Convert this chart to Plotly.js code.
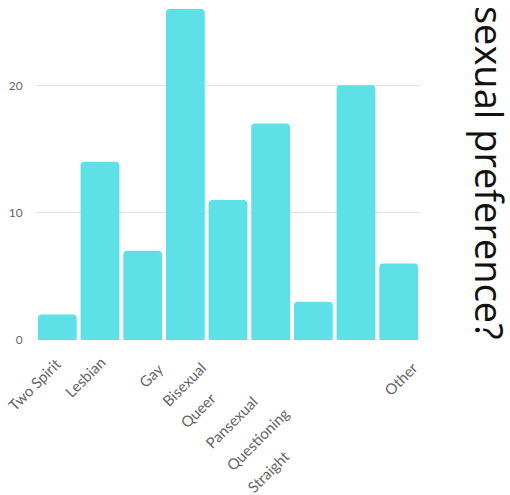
<!DOCTYPE html>
<html>
<head>
<meta charset="utf-8">
<script src="https://cdn.plot.ly/plotly-3.0.1.min.js"></script>
<style>html,body{margin:0;padding:0;background:#fff;}#chart{width:510px;height:495px;}</style>
</head>
<body>
<div id="chart"></div>
<script>
const categories = ["Two Spirit", "Lesbian", "Gay", "Bisexual", "Queer", "Pansexual", "Questioning", "Straight", "Other"];
const counts = [2, 14, 7, 26, 11, 17, 3, 20, 6];
const yTickValues = [0, 10, 20];
const titleText = "sexual preference?";

// label placement offsets (px) reproducing the staggered label layout
const labelShift = [
  [10, -11], [11, -10], [27, -17], [27, -16], [-6, -46], [-7, -49], [-18, -61], [-60, -103], [26, -15]
];

const annotations = categories.map((c, i) => ({
  xref: 'x', yref: 'paper', x: c, y: 0,
  xanchor: 'right', yanchor: 'top',
  xshift: labelShift[i][0], yshift: labelShift[i][1],
  text: c, textangle: -45, showarrow: false,
  font: {family: 'Lato, sans-serif', size: 15, color: '#666'}
}));
annotations.push({
  xref: 'paper', yref: 'paper', x: 1, y: 0,
  xanchor: 'center', yanchor: 'bottom', xshift: 70, yshift: -2,
  text: titleText, textangle: 90, showarrow: false,
  font: {family: '"Open Sans", sans-serif', size: 38, color: '#111'}
});

Plotly.newPlot('chart', [{
  type: 'bar', x: categories, y: counts,
  marker: {color: '#5ee1e6', cornerradius: 4},
  hoverinfo: 'none'
}], {
  width: 510, height: 495,
  margin: {l: 36, r: 90, t: 0, b: 155},
  paper_bgcolor: '#fff', plot_bgcolor: '#fff',
  bargap: 0.09,
  showlegend: false,
  xaxis: {range: [-0.5, categories.length - 0.5], autorange: false, showticklabels: false, showgrid: false,
          zeroline: false, showline: false, ticks: '', automargin: false},
  yaxis: {range: [0, 26.7], autorange: false, tickvals: yTickValues, showgrid: true, gridcolor: '#e2e2e2', automargin: false,
          zeroline: false, showline: false, ticks: 'outside', ticklen: 10, tickcolor: 'rgba(0,0,0,0)',
          tickfont: {family: 'Lato, sans-serif', size: 12, color: '#666'}},
  annotations: annotations
}, {staticPlot: true});
</script>
</body>
</html>
